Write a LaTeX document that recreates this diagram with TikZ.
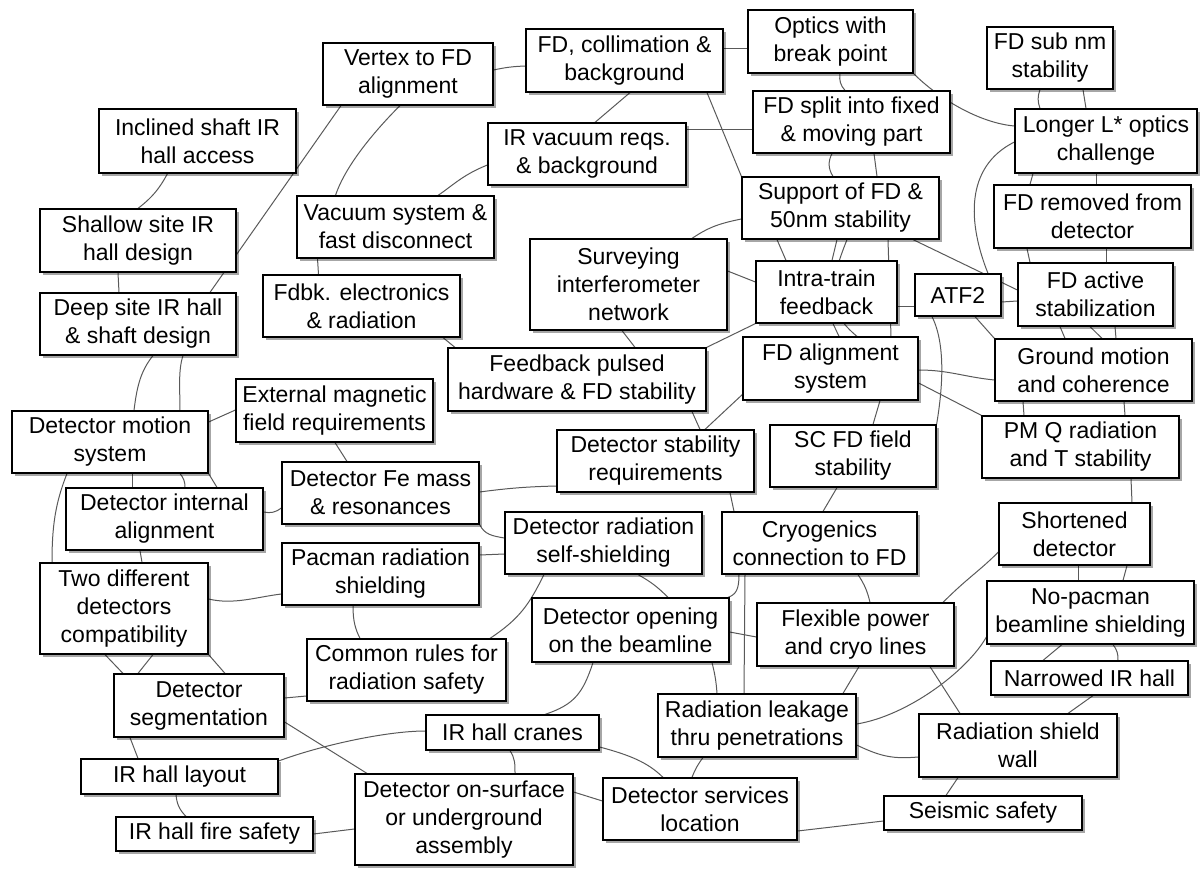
\documentclass[tikz,border=0pt]{standalone}
\usepackage{fontspec}
\setmainfont{Liberation Sans}
\usetikzlibrary{shadows,backgrounds}

\begin{document}
\begin{tikzpicture}  % ------ IR hall and final doublet issues -------
      [x=1pt,y=-1pt,
       box/.style={draw=black, line width=1.2pt, fill=white, align=center, inner sep=0pt,
         font=\fontsize{23}{28}\selectfont,
         drop shadow={shadow xshift=3pt, shadow yshift=-3pt, opacity=0.35, fill=black}},
       sz/.style 2 args={minimum width=#1pt, minimum height=#2pt},
       link/.style={draw=black!65, line width=1pt}]

    \useasboundingbox (0,0) rectangle (1200,877);

    \node[box, sz={170}{62}] (vertex) at (408,74) {Vertex to FD\\alignment};
    \node[box, sz={197}{63}] (fdcoll) at (624.5,60.5) {FD, collimation \&\\background};
    \node[box, sz={165}{63}] (optics) at (830.5,41.5) {Optics with\\break point};
    \node[box, sz={126}{62}] (fdsub) at (1050,58) {FD sub nm\\stability};
    \node[box, sz={182}{64}] (longer) at (1106,141) {Longer L* optics\\challenge};
    \node[box, sz={197}{62}] (fdsplit) at (851.5,122) {FD split into fixed\\\& moving part};
    \node[box, sz={198}{62}] (irvac) at (587,154) {IR vacuum reqs.\\\& background};
    \node[box, sz={197}{64}] (inclined) at (197.5,141) {Inclined shaft IR\\hall access};
    \node[box, sz={196}{63}] (shallow) at (138,240.5) {Shallow site IR\\hall design};
    \node[box, sz={197}{62}] (vacsys) at (395.5,227) {Vacuum system \&\\fast disconnect};
    \node[box, sz={197}{62}] (support) at (840.5,208) {Support of FD \&\\50nm stability};
    \node[box, sz={197}{63}] (fdremoved) at (1092.5,216.5) {FD removed from\\detector};
    \node[box, sz={197}{91}] (survey) at (628.5,284.5) {Surveying\\interferometer\\network};
    \node[box, sz={141}{62}] (intra) at (826.5,292) {Intra-train\\feedback};
    \node[box, sz={86}{42}] (atf) at (958,295) {ATF2};
    \node[box, sz={155}{63}] (fdactive) at (1095.5,294.5) {FD active\\stabilization};
    \node[box, sz={196}{62}] (deep) at (138,324) {Deep site IR hall\\\& shaft design};
    \node[box, sz={197}{62}] (fdbk) at (361.5,306) {Fdbk. electronics\\\& radiation};
    \node[box, sz={258}{63}] (fbpulsed) at (577,379.5) {Feedback pulsed\\hardware \& FD stability};
    \node[box, sz={175}{63}] (fdalign) at (830.5,368.5) {FD alignment\\system};
    \node[box, sz={197}{62}] (ground) at (1093.5,370) {Ground motion\\and coherence};
    \node[box, sz={197}{63}] (extmag) at (334.5,410.5) {External magnetic\\field requirements};
    \node[box, sz={196}{62}] (motion) at (110,442) {Detector motion\\system};
    \node[box, sz={197}{62}] (detstab) at (655.5,461) {Detector stability\\requirements};
    \node[box, sz={166}{62}] (scfd) at (853,456) {SC FD field\\stability};
    \node[box, sz={197}{62}] (pmq) at (1080.5,447) {PM Q radiation\\and T stability};
    \node[box, sz={197}{62}] (femass) at (380.5,493) {Detector Fe mass\\\& resonances};
    \node[box, sz={197}{62}] (internal) at (164.5,519) {Detector internal\\alignment};
    \node[box, sz={197}{62}] (radshield) at (603.5,543) {Detector radiation\\self-shielding};
    \node[box, sz={195}{62}] (cryo) at (819.5,543) {Cryogenics\\connection to FD};
    \node[box, sz={151}{62}] (shortened) at (1074.5,534) {Shortened\\detector};
    \node[box, sz={168}{91}] (twodiff) at (124,608.5) {Two different\\detectors\\compatibility};
    \node[box, sz={197}{62}] (pacman) at (380.5,574) {Pacman radiation\\shielding};
    \node[box, sz={197}{64}] (opening) at (630.5,630) {Detector opening\\on the beamline};
    \node[box, sz={197}{63}] (flexible) at (855.5,634.5) {Flexible power\\and cryo lines};
    \node[box, sz={207}{63}] (nopacman) at (1090.5,612.5) {No-pacman\\beamline shielding};
    \node[box, sz={199}{62}] (common) at (406.5,670) {Common rules for\\radiation safety};
    \node[box, sz={170}{63}] (segment) at (199,705.5) {Detector\\segmentation};
    \node[box, sz={197}{34}] (narrowed) at (1089.5,678) {Narrowed IR hall};
    \node[box, sz={198}{63}] (leakage) at (757,725.5) {Radiation leakage\\thru penetrations};
    \node[box, sz={173}{35}] (cranes) at (512.5,732.5) {IR hall cranes};
    \node[box, sz={198}{63}] (shieldwall) at (1018,745.5) {Radiation shield\\wall};
    \node[box, sz={197}{35}] (layout) at (179.5,776.5) {IR hall layout};
    \node[box, sz={218}{91}] (onsurface) at (464,819.5) {Detector on-surface\\or underground\\assembly};
    \node[box, sz={194}{62}] (services) at (700,809) {Detector services\\location};
    \node[box, sz={198}{34}] (seismic) at (983,813) {Seismic safety};
    \node[box, sz={197}{34}] (firesafety) at (214.5,834) {IR hall fire safety};

  \begin{scope}[on background layer]
    % upper left
    \draw[link] ([xshift=-30]inclined.south) to[bend left=12] (shallow.north);
    \draw[link] ([xshift=-67]vertex.south) -- ([xshift=72]deep.north);
    \draw[link] ([xshift=-8]vertex.south) .. controls +(-25,25) and +(10,-30) .. ([xshift=-60]vacsys.north);
    \draw[link] ([xshift=-20]shallow.south) -- ([xshift=-19]deep.north);
    \draw[link] ([xshift=-78]vacsys.south) -- ([xshift=-43]fdbk.north);
    \draw[link] ([yshift=4]vertex.east) to[bend left=5] ([yshift=-5.5]fdcoll.west);
    % FD region
    \draw[link] ([yshift=11.5]fdcoll.east) -- ([yshift=-7.5]optics.west);
    \draw[link] ([xshift=5.5]fdcoll.south) -- ([xshift=8]irvac.north);
    \draw[link] ([xshift=82.5]fdcoll.south) -- (support.north west);
    \draw[link] ([yshift=24]irvac.east) -- ([yshift=-8]fdsplit.west);
    \draw[link] ([yshift=-11]irvac.west) .. controls +(-25,10) and +(15,-10) .. ([xshift=42.5]vacsys.north);
    \draw[link] ([yshift=-11]support.west) .. controls +(-25,5) and +(15,-10) .. ([xshift=63.5]survey.north);
    \draw[link] ([yshift=13.5]survey.east) -- ([yshift=10]intra.west);
    \draw[link] ([xshift=-63.5]support.south) -- ([xshift=-40.5]intra.north);
    \draw[link] ([xshift=-3.5]support.south) -- ([xshift=5.5]intra.north);
    \draw[link] ([xshift=6.5]support.south) .. controls +(-20,50) and +(-30,-25) .. ([xshift=26.5]fdalign.north);
    \draw[link] ([xshift=47.5]support.south) -- ([xshift=60.5]fdalign.north);
    \draw[link] ([xshift=6.5]intra.south) -- ([xshift=8.5]fdalign.north);
    \draw[link] ([xshift=9.5]optics.south) to[bend right=25] ([xshift=-6.5]fdsplit.north);
    \draw[link] (optics.south east) .. controls +(25,25) and +(-35,-3) .. ([yshift=15]longer.west);
    \draw[link] ([xshift=-10]fdsub.south) to[bend right=20] ([xshift=-66]longer.north);
    \draw[link] ([xshift=33]fdsub.south) -- ([xshift=-20]longer.north);
    \draw[link] ([xshift=-19.5]fdsplit.south) to[bend right=30] ([xshift=-7.5]support.north);
    \draw[link] ([xshift=22.5]fdsplit.south) -- ([xshift=36.5]support.north);
    \draw[link] ([xshift=-73]longer.south) -- ([xshift=-62.5]fdremoved.north);
    \draw[link] ([xshift=-10]longer.south) -- ([xshift=3.5]fdremoved.north);
    \draw[link] ([yshift=-1]longer.west) .. controls +(-50,25) and +(-20,-50) .. ([xshift=30]atf.north);
    \draw[link] ([xshift=-26]atf.south) .. controls +(15,30) and +(5,-30) .. (scfd.north east);
    \draw[link] ([xshift=72.5]support.south) -- ([yshift=4.5]fdactive.west);
    \draw[link] ([yshift=-7]atf.east) -- ([yshift=-6.5]fdactive.west);
    \draw[link] ([xshift=-65.5]fdremoved.south) -- ([xshift=-65.5]fdactive.north);
    \draw[link] ([xshift=13.5]fdremoved.south) -- ([xshift=10.5]fdactive.north);
    \draw[link] ([yshift=-15]intra.east) -- ([yshift=-12]atf.west);
    \draw[link] (intra.south west) -- (fbpulsed.north east);
    \draw[link] ([xshift=-6.5]survey.south) -- ([xshift=58]fbpulsed.north);
    \draw[link] ([xshift=81.5]fdbk.south) -- ([xshift=-122]fbpulsed.north);
    \draw[link] ([xshift=115]fbpulsed.south) -- ([xshift=44.5]detstab.north);
    \draw[link] ([yshift=-26]fdalign.west) -- ([xshift=49.5]detstab.north);
    \draw[link] ([yshift=-1.5]fdalign.east) .. controls +(30,0) and +(-30,-3) .. ([yshift=-10]ground.west);
    \draw[link] ([yshift=-14.5]fdalign.east) -- (pmq.north west);
    \draw[link] ([xshift=49.5]fdalign.south) -- ([xshift=20]scfd.north);
    \draw[link] ([xshift=17]atf.south) -- (ground.north west);
    \draw[link] ([xshift=-35.5]fdactive.south) -- ([xshift=-28.5]ground.north);
    \draw[link] ([xshift=-5.5]fdactive.south) -- ([xshift=8.5]ground.north);
    \draw[link] ([xshift=19.5]fdactive.south) -- ([xshift=22.5]ground.north);
    \draw[link] ([xshift=-70.5]ground.south) -- ([xshift=-56.5]pmq.north);
    \draw[link] ([xshift=30.5]ground.south) -- ([xshift=44.5]pmq.north);
    \draw[link] ([xshift=50.5]pmq.south) -- ([xshift=57.5]shortened.north);
    % right lower part
    \draw[link] ([xshift=-16]scfd.south) -- ([xshift=3.5]cryo.north);
    \draw[link] ([xshift=38.5]cryo.south) to[bend left=10] ([xshift=14.5]flexible.north);
    \draw[link] ([yshift=-18]shortened.west) .. controls +(-20,20) and +(25,-25) .. ([xshift=87.5]flexible.north);
    \draw[link] ([xshift=3.5]shortened.south) -- ([xshift=-12.5]nopacman.north);
    \draw[link] ([xshift=52.5]shortened.south) -- ([xshift=32.5]nopacman.north);
    \draw[link] ([xshift=-28.5]nopacman.south) -- ([xshift=-46.5]narrowed.north);
    \draw[link] ([xshift=22.5]nopacman.south) to[bend left=20] ([xshift=28.5]narrowed.north);
    \draw[link] ([xshift=3.5]narrowed.south) -- ([xshift=50]shieldwall.north);
    \draw[link] ([xshift=74.5]flexible.south) -- ([xshift=-58]shieldwall.north);
    \draw[link] ([xshift=3.5]flexible.south) -- ([xshift=86]leakage.north);
    \draw[link] ([yshift=1.5]leakage.east) .. controls +(50,-8) and +(-20,35) .. ([yshift=-24.5]nopacman.west);
    \draw[link] ([yshift=-19.5]leakage.east) .. controls +(25,12) and +(-25,2) .. ([yshift=-11.5]shieldwall.west);
    \draw[link] ([xshift=-60]shieldwall.south) -- ([xshift=-37]seismic.north);
    \draw[link] ([yshift=-8]seismic.west) -- ([yshift=-22]services.east);
    % middle
    \draw[link] ([xshift=74.5]detstab.south) -- ([xshift=-85.5]cryo.north);
    \draw[link] ([yshift=1]femass.east) to[bend left=3] ([yshift=-25]detstab.west);
    \draw[link] (femass.south east) .. controls +(5,10) and +(-12,-2) .. ([yshift=5]radshield.west);
    \draw[link] ([yshift=19]pacman.east) -- ([yshift=-11]radshield.west);
    \draw[link] ([xshift=-59.5]radshield.south) .. controls +(-15,30) and +(30,-20) .. ([xshift=83.5]common.north);
    \draw[link] ([xshift=34.5]radshield.south) to[bend left=8] ([xshift=37.5]opening.north);
    \draw[link] ([xshift=-80.5]cryo.south) .. controls +(0,15) and +(8,-3) .. ([xshift=97.5]opening.north);
    \draw[link] ([xshift=-74.5]cryo.south) -- ([xshift=-13]leakage.north);
    \draw[link] ([yshift=-2]opening.east) -- ([yshift=-2.5]flexible.west);
    \draw[link] ([xshift=81.5]opening.south) to[bend left=5] ([xshift=-40]leakage.north);
    \draw[link] ([xshift=-37.5]opening.south) .. controls +(-10,30) and +(30,-10) .. ([xshift=32.5]cranes.north);
    % lower left
    \draw[link] ([yshift=15.5]layout.east) .. controls +(40,-15) and +(-40,0) .. ([yshift=1.5]cranes.west);
    \draw[link] ([xshift=-2.5]cranes.south) .. controls +(5,8) and +(0,-10) .. ([xshift=51]onsurface.north);
    \draw[link] ([yshift=-14.5]cranes.east) .. controls +(30,8) and +(-15,-15) .. ([xshift=-37]services.north);
    \draw[link] ([xshift=-54]leakage.south) to[bend right=8] ([xshift=-8]services.north);
    \draw[link] ([yshift=27.5]onsurface.east) -- ([yshift=8]services.west);
    \draw[link] ([yshift=-16.5]segment.east) -- ([xshift=-97]onsurface.north);
    \draw[link] ([yshift=-26]common.west) -- ([yshift=7.5]segment.east);
    \draw[link] ([xshift=-27.5]pacman.south) .. controls +(0,15) and +(-5,-10) .. ([xshift=-46.5]common.north);
    \draw[link] ([yshift=9.5]twodiff.east) .. controls +(25,6) and +(-25,3) .. ([yshift=-20]pacman.west);
    \draw[link] ([xshift=-19]twodiff.south) -- ([xshift=-76]segment.north);
    \draw[link] ([xshift=29]twodiff.south) -- ([xshift=-61]segment.north);
    \draw[link] (twodiff.south east) -- ([xshift=26]segment.north);
    \draw[link] ([xshift=-69]segment.south) -- ([xshift=-41.5]layout.north);
    \draw[link] ([xshift=-3.5]layout.south) to[bend right=20] ([xshift=-28.5]firesafety.north);
    \draw[link] (firesafety.east) -- ([yshift=-9.5]onsurface.west);
    \draw[link] ([xshift=15]deep.south) .. controls +(-12,15) and +(3,-25) .. ([xshift=24]motion.north);
    \draw[link] ([xshift=45]deep.south) .. controls +(-5,15) and +(0,-20) .. ([xshift=70]motion.north);
    \draw[link] ([yshift=20]motion.east) -- ([yshift=0.5]extmag.west);
    \draw[link] ([xshift=0.5]extmag.south) -- ([xshift=-33.5]femass.north);
    \draw[link] ([xshift=22]motion.south) -- ([xshift=-32.5]internal.north);
    \draw[link] ([xshift=70]motion.south) to[bend left=20] ([xshift=20.5]internal.north);
    \draw[link] (motion.south east) -- ([xshift=52.5]internal.north);
    \draw[link] ([xshift=-43]motion.south) .. controls +(-12,30) and +(0,-35) .. ([xshift=-72]twodiff.north);
    \draw[link] ([xshift=-24.5]internal.south) -- ([xshift=18]twodiff.north);
    \draw[link] ([yshift=7]internal.east) to[bend right=25] ([yshift=-15]femass.west);
  \end{scope}
\end{tikzpicture}
\end{document}
